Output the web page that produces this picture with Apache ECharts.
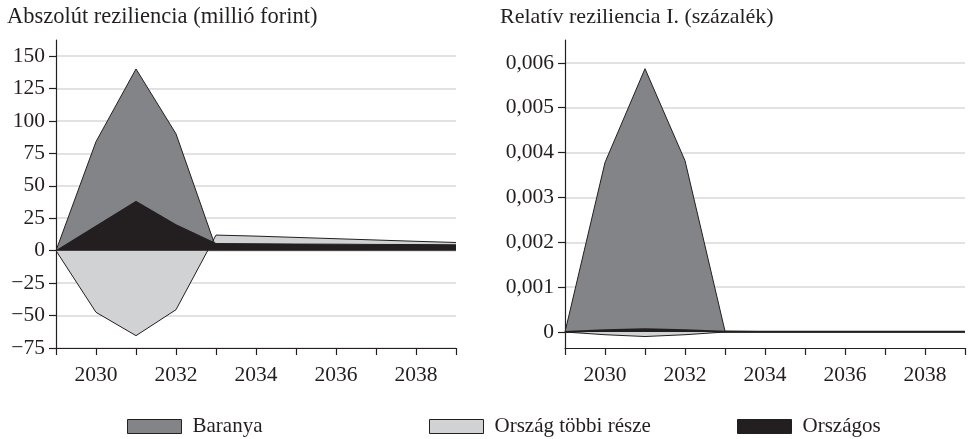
<!DOCTYPE html>
<html>
<head>
<meta charset="utf-8">
<script src="https://cdn.jsdelivr.net/npm/echarts@6/dist/echarts.min.js"></script>
<style>html,body{margin:0;padding:0;background:#fff}#c{width:970px;height:439px}</style>
</head>
<body>
<div id="c"></div>
<script>
var years = [2029, 2030, 2031, 2032, 2033, 2034, 2035, 2036, 2037, 2038, 2039];
var xLabelYears = [2030, 2032, 2034, 2036, 2038];

// Abszolút reziliencia (millió forint)
var absBaranya = [0, 84, 140, 90, 2, 2.5, 2.4, 2.3, 2.2, 2.1, 2];
var absRest    = [0, -47.5, -65.5, -45.5, 12, 11.2, 10.2, 9.2, 8.2, 7.2, 6.3];
var absOrszagos = [0, 19, 38, 20, 5.5, 5.3, 5.1, 5, 4.8, 4.7, 4.5];

// Relatív reziliencia I. (százalék)
var relBaranya = [0, 0.00378, 0.00587, 0.00382, 0.00002, 0.00001, 0.00001, 0.00001, 0.00001, 0.00001, 0.00001];
var relRest    = [0, -0.00006, -0.0001, -0.00006, 0, 0, 0, 0, 0, 0, 0];
var relOrszagos = [0, 0.00004, 0.00006, 0.00004, 0.000005, 0.000005, 0.000005, 0.000005, 0.000005, 0.000005, 0.000005];

var absYTicks = [-75, -50, -25, 0, 25, 50, 75, 100, 125, 150];
var relYTicks = [0, 0.001, 0.002, 0.003, 0.004, 0.005, 0.006];

var names = ['Baranya', 'Ország többi része', 'Országos'];
var fills = ['#838488', '#d1d2d4', '#231f20'];
var ink = '#231f20';
var FONT = 'Liberation Serif';
var FS = 21.5;

function pairs(vals) { return years.map(function (y, i) { return [y, vals[i]]; }); }

function xAxisFor(gi) {
  return {
    type: 'value', gridIndex: gi, min: 2029, max: 2039,
    axisLine: { show: true, onZero: false, lineStyle: { color: ink, width: 1.2 } },
    axisTick: { show: true, length: 7, inside: false, customValues: years, lineStyle: { color: ink, width: 1.2 } },
    axisLabel: { customValues: xLabelYears, margin: 16, fontFamily: FONT, fontSize: FS, color: ink,
      formatter: function (v) { return String(v); } },
    splitLine: { show: false }
  };
}
function yAxisFor(gi, min, max, ticks, fmt) {
  return {
    type: 'value', gridIndex: gi, min: min, max: max,
    axisLine: { show: true, onZero: false, lineStyle: { color: ink, width: 1.2 } },
    axisTick: { show: true, length: 7, customValues: ticks, lineStyle: { color: ink, width: 1.2 } },
    axisLabel: { customValues: ticks, margin: 11, fontFamily: FONT, fontSize: FS, color: ink, formatter: fmt },
    splitLine: { show: true, lineStyle: { color: '#d8d8d8', width: 1.5 } }
  };
}
function areaSeries(name, idx, gi, vals, lw) {
  return {
    type: 'line', name: name, xAxisIndex: gi, yAxisIndex: gi,
    data: pairs(vals), symbol: 'none', clip: false,
    lineStyle: { color: ink, width: lw || 1 },
    itemStyle: { color: fills[idx], borderColor: ink, borderWidth: 1 },
    areaStyle: { color: fills[idx], opacity: 1, origin: 0 },
    emphasis: { disabled: true }, animation: false
  };
}
function legendFor(name, left) {
  return {
    left: left, top: 411, icon: 'rect', itemWidth: 54, itemHeight: 14, itemGap: 0,
    selectedMode: false,
    textStyle: { fontFamily: FONT, fontSize: 21, color: ink, padding: [0, 0, 0, 6] },
    itemStyle: { borderColor: ink, borderWidth: 1 },
    data: [{ name: name, itemStyle: { color: fills[names.indexOf(name)], borderColor: ink, borderWidth: 1 } }]
  };
}

var chart = echarts.init(document.getElementById('c'), null, { renderer: 'canvas' });
chart.setOption({
  animation: false,
  backgroundColor: '#fff',
  title: [
    { text: 'Abszolút reziliencia (millió forint)', left: 2, top: 1,
      textStyle: { fontFamily: FONT, fontSize: 22.5, fontWeight: 'normal', color: ink } },
    { text: 'Relatív reziliencia I. (százalék)', left: 495, top: 1,
      textStyle: { fontFamily: FONT, fontSize: 22, fontWeight: 'normal', color: ink } }
  ],
  legend: [legendFor('Baranya', 122), legendFor('Ország többi része', 424), legendFor('Országos', 732)],
  grid: [
    { left: 56, top: 40, width: 400, height: 308 },
    { left: 565, top: 40, width: 400, height: 308 }
  ],
  xAxis: [xAxisFor(0), xAxisFor(1)],
  yAxis: [
    yAxisFor(0, -75, 162.3, absYTicks, function (v) { return v < 0 ? '\u2212' + Math.abs(v) : String(v); }),
    yAxisFor(1, -0.000356, 0.00651, relYTicks, function (v) { return v === 0 ? '0' : v.toFixed(3).replace('.', ','); })
  ],
  series: [
    areaSeries(names[0], 0, 0, absBaranya),
    areaSeries(names[1], 1, 0, absRest),
    areaSeries(names[2], 2, 0, absOrszagos),
    areaSeries(names[0], 0, 1, relBaranya),
    areaSeries(names[1], 1, 1, relRest),
    areaSeries(names[2], 2, 1, relOrszagos, 2)
  ]
});
</script>
</body>
</html>
